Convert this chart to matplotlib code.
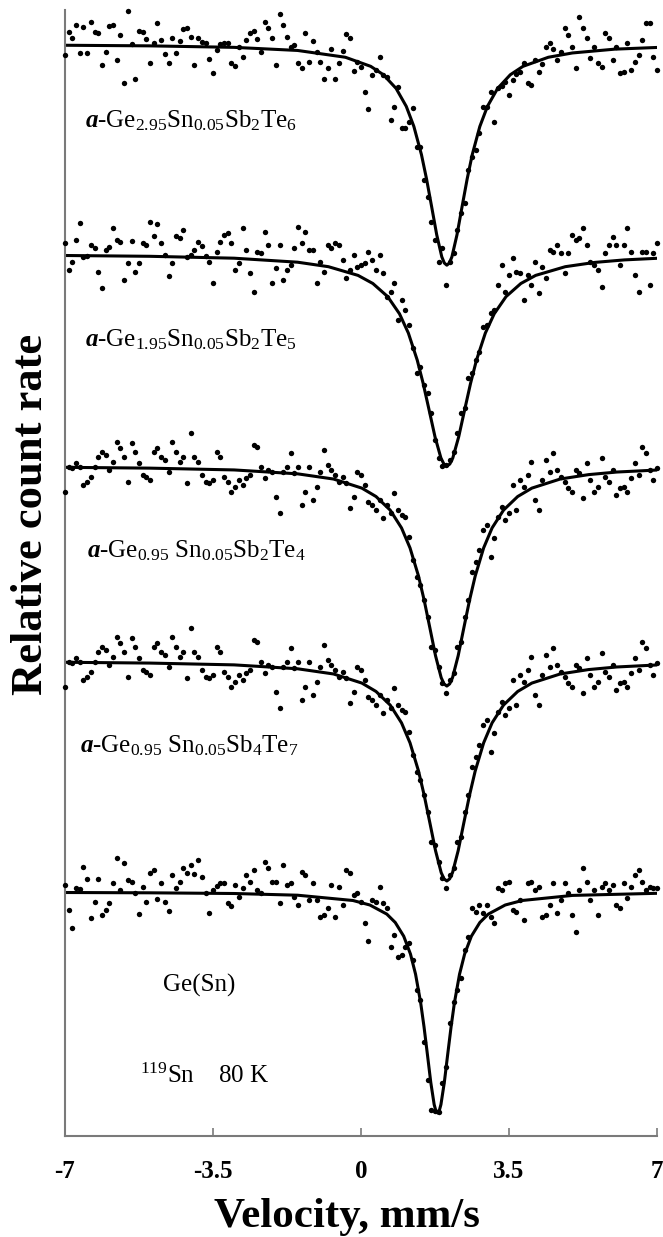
"""119Sn Mossbauer spectra of amorphous Ge-Sb-Te films and Ge(Sn), stacked."""
import matplotlib

matplotlib.use("Agg")
import matplotlib.pyplot as plt
import numpy as np

plt.rcParams["font.family"] = ["Liberation Serif", "DejaVu Serif"]
plt.rcParams["mathtext.fontset"] = "custom"
plt.rcParams["mathtext.rm"] = "Liberation Serif"
plt.rcParams["mathtext.it"] = "Liberation Serif:italic"
plt.rcParams["mathtext.bf"] = "Liberation Serif:bold"
plt.rcParams["mathtext.bfit"] = "Liberation Serif:bold:italic"

# 161 folded channels, -7 ... +7 mm/s
velocity = np.linspace(-7, 7, 161)
baseline_counts = 20000

labels = [
    r"$\mathbfit{a}$-Ge$_{2.95}$Sn$_{0.05}$Sb$_{2}$Te$_{6}$",
    r"$\mathbfit{a}$-Ge$_{1.95}$Sn$_{0.05}$Sb$_{2}$Te$_{5}$",
    r"$\mathbfit{a}$-Ge$_{0.95}$ Sn$_{0.05}$Sb$_{2}$Te$_{4}$",
    r"$\mathbfit{a}$-Ge$_{0.95}$ Sn$_{0.05}$Sb$_{4}$Te$_{7}$",
    "Ge(Sn)",
]

counts_ge295 = [
    19890, 20120, 20060, 20190, 19910, 20170, 19910, 20220, 20120, 20110,
    19790, 19920, 20180, 20190, 19840, 20090, 19610, 20330, 20000, 19650,
    20130, 20120, 20050, 19810, 20010, 20210, 20040, 19900, 19810, 20060,
    19910, 20030, 20150, 20160, 20070, 19790, 20060, 20020, 20010, 19850,
    19710, 19940, 20000, 20010, 20010, 19810, 19780, 19970, 19870, 20040,
    20110, 20130, 20050, 19920, 20220, 20160, 20060, 19790, 20300, 20190,
    20070, 19970, 19990, 19810, 19760, 20110, 19820, 20030, 19920, 19820,
    19650, 19760, 19950, 19650, 19810, 19930, 20100, 20060, 19730, 19820,
    19770, 19520, 19350, 19690, 19740, 19870, 19690, 19670, 19240, 19370,
    19570, 19160, 19160, 19220, 19360, 18970, 18970, 18640, 18470, 18220,
    18040, 17820, 17960, 17590, 17820, 17910, 18140, 18310, 18410, 18740,
    18870, 18940, 19110, 19370, 19370, 19520, 19220, 19560, 19580, 19620,
    19490, 19640, 19700, 19720, 19810, 19610, 19590, 19840, 19720, 19800,
    19970, 20010, 19950, 19840, 19920, 20160, 20090, 19970, 19760, 20270,
    20160, 20060, 19860, 19970, 19810, 19770, 20110, 20060, 19840, 19970,
    19710, 19720, 20010, 19740, 19820, 19890, 20040, 20210, 20210, 19870,
    19740,
]

counts_ge195 = [
    20110, 19840, 19920, 20140, 20310, 19970, 19980, 20090, 20060, 19820,
    19660, 20040, 20070, 20260, 20140, 20120, 19740, 19910, 20130, 19820,
    19910, 20110, 20090, 20320, 20180, 20300, 20110, 19990, 19780, 19910,
    20180, 20160, 20240, 19970, 19990, 20040, 20120, 20080, 19980, 19920,
    19710, 20020, 20120, 20190, 20210, 20110, 19840, 19910, 20260, 20040,
    19810, 19620, 20020, 20010, 20220, 20090, 19710, 19860, 20090, 19740,
    19840, 19890, 20060, 20270, 20110, 20220, 20040, 20040, 19710, 19920,
    19820, 20090, 20060, 20110, 20090, 19940, 19760, 19840, 19990, 19870,
    19890, 19910, 20020, 19940, 19840, 19990, 19810, 19570, 19620, 19710,
    19340, 19540, 19440, 19290, 19060, 18810, 18870, 18690, 18610, 18410,
    18140, 17960, 17880, 17890, 17940, 18020, 18210, 18410, 18460, 18760,
    18810, 18940, 19020, 19270, 19290, 19410, 19440, 19690, 19890, 19620,
    19790, 19960, 19820, 19810, 19540, 19790, 19690, 19920, 19610, 19870,
    19760, 20040, 20020, 20090, 20010, 19810, 20010, 20190, 20140, 20160,
    20260, 20090, 19920, 19890, 19840, 19670, 20010, 20090, 20170, 20090,
    19890, 20090, 20260, 20020, 19790, 19620, 20020, 20020, 19690, 20010,
    20110,
]

counts_ge095_te4 = [
    19740, 19990, 19980, 20030, 19990, 19810, 19840, 19890, 19990, 20090,
    20140, 20110, 19960, 20040, 20240, 20180, 20090, 19840, 20230, 20140,
    20030, 19910, 19890, 19860, 20140, 20180, 20090, 20060, 19940, 20240,
    20140, 20040, 20090, 19830, 20330, 20090, 20040, 19910, 19840, 19830,
    19860, 20140, 20090, 19890, 19840, 19740, 19790, 19860, 19810, 19880,
    19910, 20210, 20190, 19990, 19880, 19960, 19940, 19690, 19530, 19940,
    19990, 20130, 19930, 19990, 19610, 19740, 19990, 19660, 19790, 19940,
    20160, 20010, 19960, 19910, 19840, 19890, 19830, 19580, 19690, 19940,
    19910, 19810, 19640, 19610, 19560, 19660, 19480, 19610, 19530, 19730,
    19560, 19510, 19490, 19290, 19060, 18890, 18810, 18660, 18490, 18190,
    18160, 17990, 17830, 17730, 17860, 17930, 18190, 18240, 18490, 18660,
    18940, 19040, 19160, 19360, 19410, 19090, 19280, 19490, 19590, 19460,
    19530, 19810, 19560, 19860, 19790, 19910, 20040, 19660, 19560, 19860,
    20060, 19940, 20130, 19960, 19890, 19840, 19780, 19740, 19960, 19930,
    19680, 20030, 19860, 19740, 19790, 20080, 19890, 19840, 19960, 19710,
    19780, 19790, 19740, 19880, 20030, 19910, 20190, 20130, 19960, 19860,
    19980,
]

# the Sb4Te7 spectrum shows the same points as the Sb2Te4 one in the figure
counts_ge095_te7 = list(counts_ge095_te4)

counts_gesn = [
    20070, 19820, 19640, 20040, 20030, 20250, 20130, 19740, 19900, 20130,
    19770, 19820, 19890, 20090, 20340, 20020, 20290, 20120, 20100, 19990,
    19780, 20050, 19900, 20190, 20220, 19930, 20090, 19900, 19810, 20170,
    20040, 20100, 20240, 20190, 20270, 20180, 20320, 20150, 19990, 19790,
    20020, 20060, 20090, 20090, 19890, 19860, 20070, 19950, 20040, 20170,
    20100, 20220, 20020, 19990, 20300, 20240, 20100, 20100, 19890, 20270,
    20070, 20090, 19950, 19870, 20200, 20170, 19920, 20090, 19920, 19750,
    19770, 19840, 20070, 19750, 20050, 19870, 20220, 20190, 19970, 19990,
    19900, 19690, 19510, 19920, 19900, 20050, 19890, 19840, 19450, 19570,
    19350, 19370, 19450, 19490, 19320, 19020, 18920, 18500, 18120, 17820,
    17810, 17800, 18090, 18250, 18690, 18900, 19020, 19140, 19420, 19550,
    19840, 19800, 19870, 19790, 19870, 19750, 19690, 20040, 20020, 20090,
    20100, 19820, 19800, 19920, 19720, 20090, 20100, 20020, 20050, 19750,
    19770, 19870, 20090, 19790, 19920, 20090, 19990, 19770, 19600, 20020,
    20240, 20100, 19920, 20020, 19770, 20050, 20090, 20020, 20070, 19870,
    19840, 20090, 19940, 20050, 20170, 20220, 20100, 20020, 20050, 20040,
    20040,
]

# fitted single lines (velocity, counts)
fit_v_ge295 = [-7, -5, -3, -1.5, -0.37, 0.23, 0.53, 0.83, 1.07, 1.25, 1.43, 1.55, 1.67,
               1.79, 1.91, 1.97, 2.03, 2.09, 2.15, 2.27, 2.39, 2.51, 2.63, 2.81, 2.99,
               3.23, 3.53, 3.83, 4.43, 5.0, 6.0, 7.0]
fit_c_ge295 = [19990, 19984, 19969, 19938, 19870, 19779, 19695, 19558, 19379, 19178, 18895,
               18652, 18376, 18095, 17874, 17812, 17790, 17812, 17874, 18095, 18376, 18652,
               18895, 19178, 19379, 19558, 19695, 19779, 19870, 19913, 19951, 19968]

fit_v_ge195 = [-7, -5, -3, -1.5, -0.77, -0.07, 0.28, 0.63, 0.91, 1.12, 1.33, 1.47, 1.61,
               1.75, 1.89, 1.96, 2.03, 2.10, 2.17, 2.31, 2.45, 2.59, 2.73, 2.94, 3.15,
               3.43, 3.78, 4.13, 4.83, 5.53, 6.23, 7.0]
fit_c_ge195 = [19987, 19979, 19960, 19920, 19875, 19788, 19707, 19576, 19404, 19211, 18940,
               18707, 18442, 18173, 17961, 17901, 17880, 17901, 17961, 18173, 18442, 18707,
               18940, 19211, 19404, 19576, 19707, 19788, 19875, 19918, 19943, 19959]

fit_v_ge095 = [-7, -5, -3, -1.5, -0.65, 0.02, 0.355, 0.69, 0.958, 1.159, 1.36, 1.494,
               1.628, 1.762, 1.896, 1.963, 2.03, 2.097, 2.164, 2.298, 2.432, 2.566, 2.70,
               2.90, 3.10, 3.37, 3.705, 4.04, 4.71, 5.38, 6.05, 7.0]
fit_c_ge095 = [19988, 19980, 19962, 19923, 19871, 19780, 19696, 19560, 19382, 19182, 18900,
               18658, 18383, 18104, 17884, 17822, 17800, 17822, 17884, 18104, 18383, 18658,
               18900, 19182, 19382, 19560, 19696, 19780, 19871, 19915, 19941, 19961]

fit_v_gesn = [-7, -5, -3, -1.5, -0.19, 0.21, 0.61, 0.81, 1.01, 1.17, 1.29, 1.41, 1.49,
              1.57, 1.65, 1.73, 1.77, 1.81, 1.85, 1.89, 1.97, 2.05, 2.13, 2.21, 2.33,
              2.45, 2.61, 2.81, 3.01, 3.41, 3.81, 5.0, 7.0]
fit_c_gesn = [19995, 19992, 19985, 19968, 19915, 19870, 19779, 19695, 19558, 19379, 19178,
              18895, 18652, 18376, 18095, 17874, 17812, 17790, 17812, 17874, 18095, 18376,
              18652, 18895, 19178, 19379, 19558, 19695, 19779, 19870, 19915, 19966, 19987]

spectra = [
    (counts_ge295, fit_v_ge295, fit_c_ge295),
    (counts_ge195, fit_v_ge195, fit_c_ge195),
    (counts_ge095_te4, fit_v_ge095, fit_c_ge095),
    (counts_ge095_te7, fit_v_ge095, fit_c_ge095),
    (counts_gesn, fit_v_gesn, fit_c_gesn),
]

# layout: vertical shift of each spectrum and label anchor (axes fraction)
offsets = [0.0, 0.105, 0.211, 0.3085, 0.424]
label_pos = [(0.034, 0.902), (0.034, 0.707), (0.037, 0.520), (0.025, 0.347), (0.166, 0.134)]

fig = plt.figure(figsize=(6.63, 12.37), dpi=100)
ax = fig.add_axes([0.098, 0.0817, 0.893, 0.910])

for (counts, fv, fc), off in zip(spectra, offsets):
    ax.scatter(velocity, np.array(counts) / baseline_counts - off, s=15, c="black",
               marker="o", linewidths=0, clip_on=False, zorder=3)
    ax.plot(fv, np.array(fc) / baseline_counts - off, color="black", lw=2.2, zorder=2)

for text, (lx, ly) in zip(labels, label_pos):
    ax.text(lx, ly, text, transform=ax.transAxes, fontsize=18, ha="left", va="center")
ax.text(0.127, 0.053, r"$^{119}$Sn    80 K", transform=ax.transAxes, fontsize=18,
        ha="left", va="center")

ax.set_xlim(-7, 7)
ax.set_ylim(0.454, 1.017)
ax.set_xticks([-7, -3.5, 0, 3.5, 7])
ax.set_xticklabels(["-7", "-3.5", "0", "3.5", "7"], fontsize=18, fontweight="bold")
ax.set_yticks([])
ax.tick_params(axis="x", direction="in", length=6, width=1.2, color="#7a7a7a", pad=17)

for side in ("top", "right"):
    ax.spines[side].set_visible(False)
for side in ("left", "bottom"):
    ax.spines[side].set_color("#7a7a7a")
    ax.spines[side].set_linewidth(1.5)

ax.set_xlabel("Velocity, mm/s", fontsize=31, fontweight="bold", va="center")
ax.xaxis.set_label_coords(0.4755, -0.072)
ax.set_ylabel("Relative count rate", fontsize=32, fontweight="bold", va="center")
ax.yaxis.set_label_coords(-0.057, 0.552)

fig.savefig("out.png", dpi=100)
